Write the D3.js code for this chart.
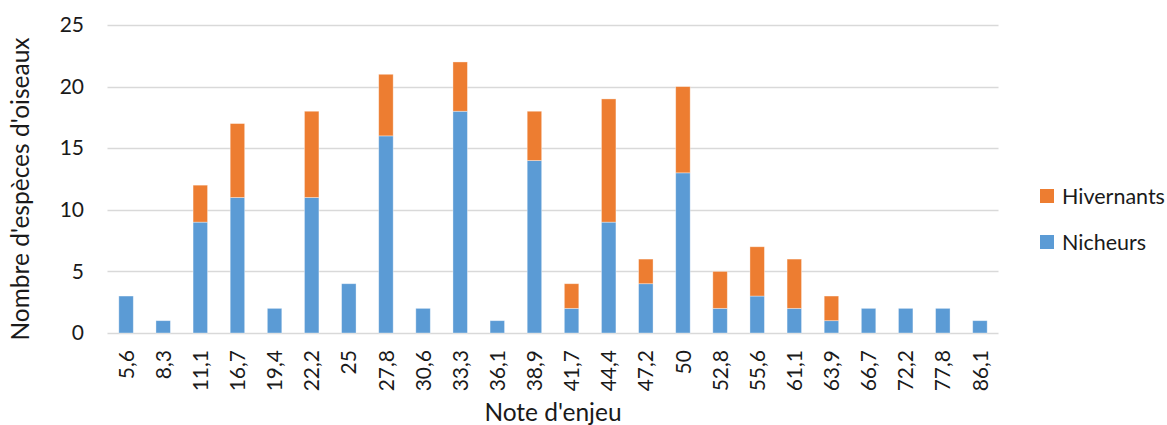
<!DOCTYPE html>
<html>
<head>
<meta charset="utf-8">
<script src="https://cdn.jsdelivr.net/npm/d3@7"></script>
<style>
  html, body { margin: 0; padding: 0; background: #fff; }
  svg { display: block; font-family: Lato, "Open Sans", sans-serif; }
</style>
</head>
<body>
<svg id="chart" width="1167" height="425"></svg>
<script>
// Note d'enjeu categories
const categories = ["5,6","8,3","11,1","16,7","19,4","22,2","25","27,8","30,6","33,3","36,1","38,9",
                    "41,7","44,4","47,2","50","52,8","55,6","61,1","63,9","66,7","72,2","77,8","86,1"];
// Number of breeding species per category
const nicheurs   = [3,1,9,11,2,11,4,16,2,18,1,14,2,9,4,13,2,3,2,1,2,2,2,1];
// Number of wintering species per category
const hivernants = [0,0,3,6,0,7,0,5,0,4,0,4,2,10,2,7,3,4,4,2,0,0,0,0];
const yTicks = [0,5,10,15,20,25];

const seriesNames = ["Nicheurs","Hivernants"];
const colors = { "Nicheurs": "#5B9BD5", "Hivernants": "#ED7D31" };

const rows = categories.map((c, i) => ({ cat: c, Nicheurs: nicheurs[i], Hivernants: hivernants[i] }));
const stacked = d3.stack().keys(seriesNames)(rows);

const svg = d3.select("#chart");
const plot = { left: 107.5, right: 998.5, top: 25, bottom: 333 };
const textColor = "#1a1a1a";

const x = d3.scaleBand().domain(categories).range([plot.left, plot.right]).paddingInner(0.61).paddingOuter(0.305);
const y = d3.scaleLinear().domain([0, 25]).range([plot.bottom, plot.top]);

// Horizontal gridlines
svg.append("g")
  .selectAll("line")
  .data(yTicks)
  .join("line")
  .attr("x1", plot.left).attr("x2", plot.right)
  .attr("y1", d => Math.round(y(d)) + 0.5).attr("y2", d => Math.round(y(d)) + 0.5)
  .attr("stroke", "#D9D9D9").attr("stroke-width", 1.3);

// Stacked bars
svg.append("g")
  .selectAll("g")
  .data(stacked)
  .join("g")
  .attr("fill", d => colors[d.key])
  .selectAll("rect")
  .data(d => d.filter(p => p[1] > p[0]))
  .join("rect")
  .attr("x", d => x(d.data.cat))
  .attr("width", x.bandwidth())
  .attr("y", d => y(d[1]))
  .attr("height", d => y(d[0]) - y(d[1]))
  .attr("stroke", "rgba(255,255,255,0.45)")
  .attr("stroke-width", 0.8);

// Y axis labels
const yAxis = d3.axisLeft(y).tickValues(yTicks).tickSize(0).tickPadding(0).tickFormat(d3.format("d"));
const gy = svg.append("g").attr("transform", "translate(84,0)").call(yAxis);
gy.select(".domain").remove();
gy.selectAll("text").attr("font-size", 21).attr("fill", textColor).attr("font-family", "Lato, sans-serif");

// X axis labels (rotated)
const xAxis = d3.axisBottom(x).tickSize(0).tickPadding(0);
const gx = svg.append("g").attr("transform", `translate(0,${plot.bottom})`).call(xAxis);
gx.select(".domain").remove();
gx.selectAll("text")
  .attr("font-size", 21).attr("fill", textColor).attr("font-family", "Lato, sans-serif")
  .attr("transform", "rotate(-90)")
  .attr("text-anchor", "end")
  .attr("x", -17).attr("y", 0).attr("dy", "0.36em");

// Axis titles
svg.append("text")
  .attr("x", 553).attr("y", 421)
  .attr("text-anchor", "middle")
  .attr("font-size", 24.5).attr("fill", textColor)
  .text("Note d'enjeu");

svg.append("text")
  .attr("transform", "translate(29,189) rotate(-90)")
  .attr("text-anchor", "middle")
  .attr("font-size", 24.5).attr("fill", textColor)
  .text("Nombre d'espèces d'oiseaux");

// Legend
const legendItems = ["Hivernants", "Nicheurs"];
const legend = svg.append("g").attr("transform", "translate(1040,189)");
legendItems.forEach((name, i) => {
  const g = legend.append("g").attr("transform", `translate(0,${i * 46})`);
  g.append("rect").attr("width", 14).attr("height", 14).attr("fill", colors[name]);
  g.append("text").attr("x", 22).attr("y", 7).attr("dy", "0.36em")
    .attr("font-size", 21.5).attr("fill", textColor).text(name);
});
</script>
</body>
</html>
